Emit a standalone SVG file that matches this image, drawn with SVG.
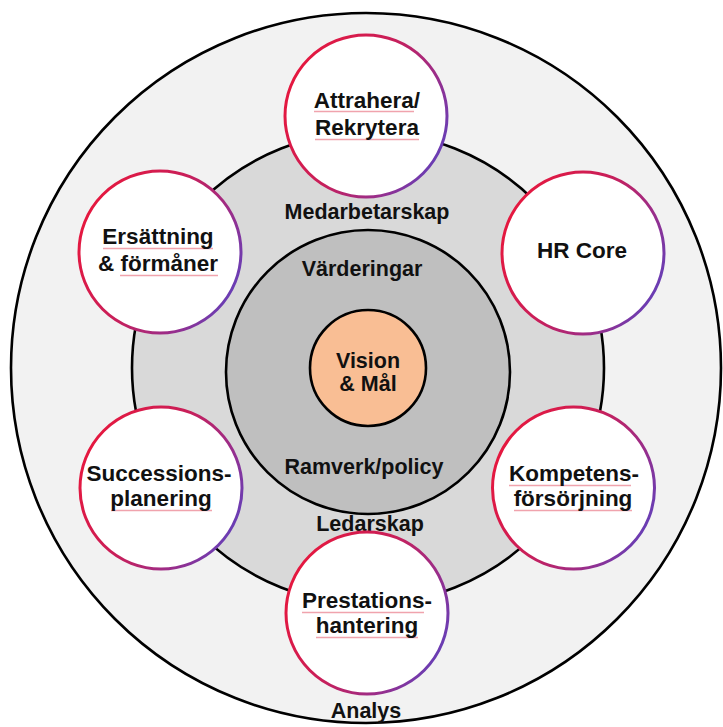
<svg xmlns="http://www.w3.org/2000/svg" width="723" height="727" viewBox="0 0 723 727">
  <defs>
    <linearGradient id="ring" x1="0" y1="0.25" x2="1" y2="0.75">
      <stop offset="0" stop-color="#e8173c"/>
      <stop offset="0.45" stop-color="#c81f5a"/>
      <stop offset="0.75" stop-color="#9a2d8a"/>
      <stop offset="1" stop-color="#5f41bd"/>
    </linearGradient>
    <style>
      .band { stroke: #000; stroke-width: 2.6; }
      .node { fill: #fff; stroke: url(#ring); stroke-width: 3; }
      text { font-family: "Liberation Sans", Arial, sans-serif; font-weight: bold; fill: #111; text-anchor: middle; }
      .lbl { font-size: 21.5px; }
      .nt { font-size: 22.5px; }
      .sq { stroke: #f0a3ad; stroke-width: 1.3; fill: none; }
    </style>
  </defs>
  <rect width="723" height="727" fill="#fff"/>

  <g id="outer-ring">
    <circle class="band" cx="366" cy="368" r="355" fill="#f2f2f2"/>
  </g>
  <g id="middle-ring">
    <circle class="band" cx="368" cy="368" r="236" fill="#d9d9d9"/>
  </g>
  <g id="inner-ring">
    <circle class="band" cx="368" cy="372" r="142" fill="#bfbfbf"/>
  </g>
  <g id="vision">
    <circle class="band" cx="368" cy="368" r="58" fill="#f9be94"/>
    <text class="lbl" x="368" y="368">Vision</text>
    <text class="lbl" x="368" y="391">&amp; Mål</text>
  </g>

  <g id="labels">
    <text class="lbl" x="367" y="219">Medarbetarskap</text>
    <text class="lbl" x="362" y="276">Värderingar</text>
    <text class="lbl" x="364" y="474">Ramverk/policy</text>
    <text class="lbl" x="370" y="531">Ledarskap</text>
    <text class="lbl" x="366" y="718">Analys</text>
  </g>

  <g id="connectors"/>

  <g id="node-attrahera">
    <circle class="node" cx="366" cy="116" r="81"/>
    <line class="sq" x1="314" y1="111.5" x2="414" y2="111.5"/>
    <line class="sq" x1="315" y1="139.5" x2="419" y2="139.5"/>
    <text class="nt" x="367" y="108">Attrahera/</text>
    <text class="nt" x="367" y="135">Rekrytera</text>
  </g>
  <g id="node-hrcore">
    <circle class="node" cx="583" cy="253" r="81"/>
    <text class="nt" x="582" y="258">HR Core</text>
  </g>
  <g id="node-kompetens">
    <circle class="node" cx="573.5" cy="488" r="81"/>
    <line class="sq" x1="509" y1="485.5" x2="631" y2="485.5"/>
    <line class="sq" x1="514" y1="510.5" x2="632" y2="510.5"/>
    <text class="nt" x="574" y="481">Kompetens-</text>
    <text class="nt" x="573" y="506">försörjning</text>
  </g>
  <g id="node-prestations">
    <circle class="node" cx="367" cy="613" r="81"/>
    <line class="sq" x1="302" y1="612.5" x2="424" y2="612.5"/>
    <line class="sq" x1="316" y1="637.5" x2="418" y2="637.5"/>
    <text class="nt" x="367" y="608">Prestations-</text>
    <text class="nt" x="367" y="633">hantering</text>
  </g>
  <g id="node-successions">
    <circle class="node" cx="161" cy="488" r="81"/>
    <line class="sq" x1="111" y1="510.5" x2="212" y2="510.5"/>
    <text class="nt" x="159" y="481">Successions-</text>
    <text class="nt" x="161" y="506">planering</text>
  </g>
  <g id="node-ersattning">
    <circle class="node" cx="160" cy="252" r="81"/>
    <line class="sq" x1="103" y1="248.5" x2="213" y2="248.5"/>
    <line class="sq" x1="120" y1="275.5" x2="218" y2="275.5"/>
    <text class="nt" x="158" y="244">Ersättning</text>
    <text class="nt" x="158" y="271">&amp; förmåner</text>
  </g>
</svg>
